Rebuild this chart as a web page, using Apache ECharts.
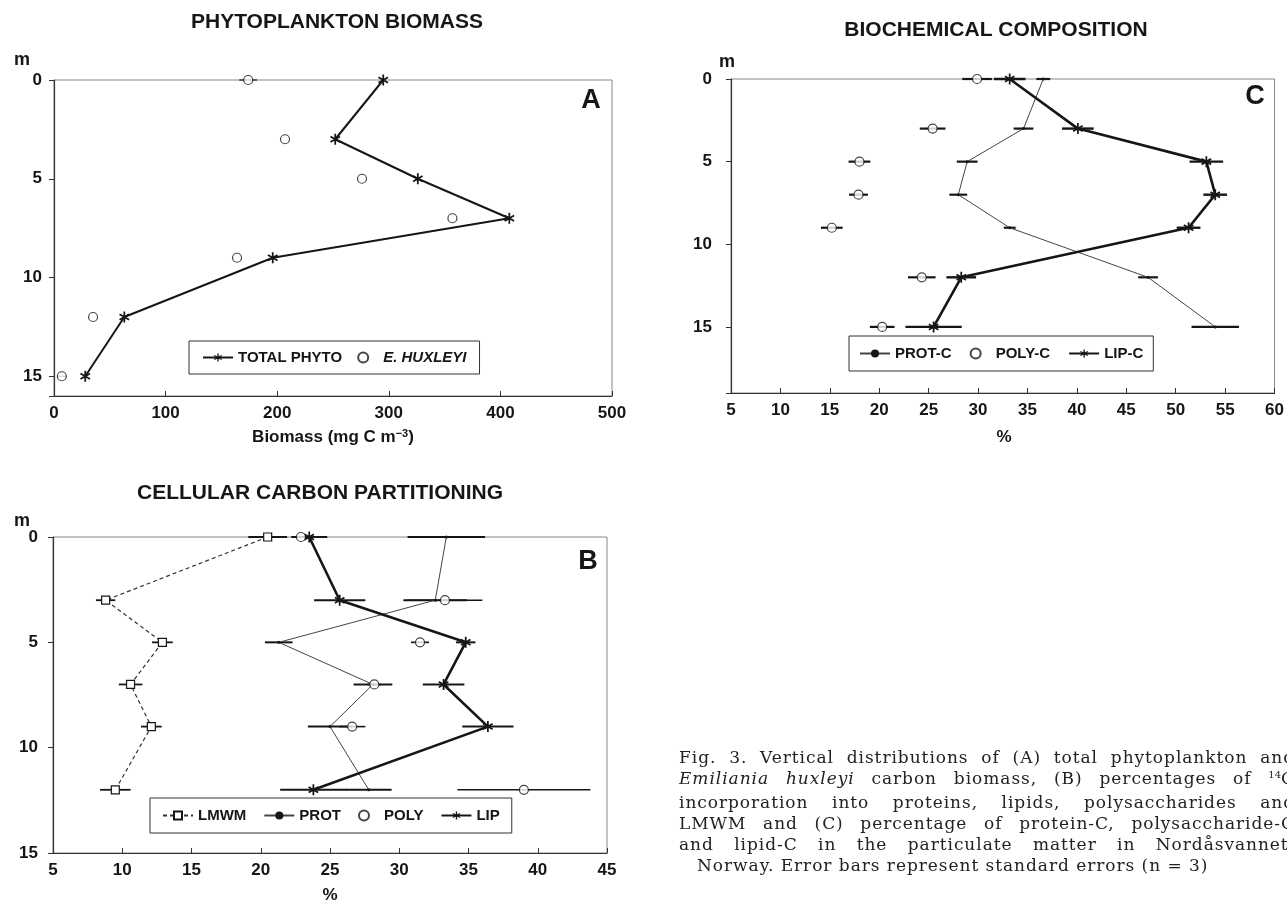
<!DOCTYPE html>
<html><head><meta charset="utf-8">
<script src="https://cdn.jsdelivr.net/npm/echarts@6/dist/echarts.min.js"></script>
<style>
html,body{margin:0;padding:0;background:#fff;overflow:hidden;width:1287px;height:902px;}
#chart{position:absolute;left:0;top:0;width:1287px;height:902px;}
#cap{position:absolute;left:679px;top:747px;width:616px;font-family:'DejaVu Serif',serif;font-size:17px;letter-spacing:0.95px;color:#222;line-height:21.3px;}
#cap .j{text-align:justify;text-align-last:justify;}
#cap .last{padding-left:18px;}
#cap .sup{font-size:10px;position:relative;top:-6px;letter-spacing:0;}
</style></head>
<body>
<div id="chart"></div>
<div id="cap">
<div class="j">Fig. 3. Vertical distributions of (A) total phytoplankton and</div>
<div class="j"><i>Emiliania huxleyi</i> carbon biomass, (B) percentages of <span class="sup">14</span>C</div>
<div class="j">incorporation into proteins, lipids, polysaccharides and</div>
<div class="j">LMWM and (C) percentage of protein-C, polysaccharide-C</div>
<div class="j">and lipid-C in the particulate matter in Nordåsvannet,</div>
<div class="last">Norway. Error bars represent standard errors (n = 3)</div>
</div>
<script>
// ---- Panel A: phytoplankton biomass ----
const depthA = [0, 3, 5, 7, 9, 12, 15];
const totalPhyto = [295, 252, 326, 408, 196, 63, 28];
const eHuxleyi = [174, 207, 276, 357, 164, 35, 7];
const eHuxleyiErr = [8, 0, 0, 0, 0, 0, 4];

// ---- Panel B: cellular carbon partitioning (%) ----
const depthB = [0, 3, 5, 7, 9, 12];
const lmwm = [20.5, 8.8, 12.9, 10.6, 12.1, 9.5];
const lmwmErr = [1.4, 0.7, 0.75, 0.85, 0.75, 1.1];
const prot = [33.4, 32.6, 21.3, 28.1, 25.0, 27.8];
const protErr = [2.8, 2.3, 1.0, 1.4, 1.6, 1.65];
const poly = [22.9, 33.3, 31.5, 28.2, 26.6, 39.0];
const polyErr = [0.6, 2.7, 0.65, 0.5, 0.95, 4.8];
const lip = [23.5, 25.7, 34.8, 33.2, 36.4, 23.8];
const lipErr = [1.3, 1.85, 0.7, 1.5, 1.85, 2.4];

// ---- Panel C: biochemical composition (%) ----
const depthC = [0, 3, 5, 7, 9, 12, 15];
const protC = [36.6, 34.6, 28.9, 28.0, 33.2, 47.2, 54.0];
const protCErr = [0.7, 1.0, 1.05, 0.9, 0.6, 1.0, 2.4];
const polyC = [29.9, 25.4, 18.0, 17.9, 15.2, 24.3, 20.3];
const polyCErr = [1.5, 1.3, 1.1, 0.95, 1.1, 1.4, 1.25];
const lipC = [33.2, 40.1, 53.1, 54.0, 51.3, 28.3, 25.5];
const lipCErr = [1.6, 1.6, 1.7, 1.2, 1.2, 1.5, 2.85];

// ---- axis ranges / tick labels ----
const xRangeA = [0, 500, 100];
const xRangeB = [5, 45, 5];
const xRangeC = [5, 60, 5];
const depthMax = [16, 15, 19];

const FF = "'Liberation Sans', Arial, Helvetica, sans-serif";
const INK = '#161616';
const STAR = 'path://M-0.8,-5L-0.8,5L0.8,5L0.8,-5Z M3.93,3.193L4.73,1.807L-3.93,-3.193L-4.73,-1.807Z M4.73,-1.807L3.93,-3.193L-4.73,1.807L-3.93,3.193Z';

function pairs(depths, vals) { return depths.map((d, i) => [vals[i], d]); }

function errBars(gi, depths, vals, errs, lw) {
  return {
    type: 'custom', xAxisIndex: gi, yAxisIndex: gi, silent: true, z: 1,
    data: depths.map((d, i) => [vals[i], d, errs[i]]),
    encode: { x: 0, y: 1 },
    renderItem: function (p, api) {
      const v = api.value(0), d = api.value(1), e = api.value(2);
      if (!e) return null;
      const a = api.coord([v - e, d]), b = api.coord([v + e, d]);
      return { type: 'line', shape: { x1: a[0], y1: a[1], x2: b[0], y2: b[1] },
        style: { stroke: INK, lineWidth: lw } };
    }
  };
}
function lineS(name, gi, depths, vals, symbol, size, lw, color, dash, fill) {
  return {
    type: 'line', name: name, xAxisIndex: gi, yAxisIndex: gi, z: 3,
    data: pairs(depths, vals), symbol: symbol, symbolSize: size, symbolKeepAspect: true,
    showSymbol: true, showAllSymbol: true,
    lineStyle: { color: color, width: lw, type: dash || 'solid' },
    itemStyle: { color: fill || INK, borderColor: INK, borderWidth: fill ? 1.2 : 0 }
  };
}
function scat(name, gi, depths, vals, size) {
  return {
    type: 'scatter', name: name, xAxisIndex: gi, yAxisIndex: gi, z: 4,
    data: pairs(depths, vals), symbol: 'circle', symbolSize: size,
    itemStyle: { color: '#fff', borderColor: INK, borderWidth: 1.2 }
  };
}
function xAx(gi, r) {
  return {
    type: 'value', gridIndex: gi, position: 'bottom', min: r[0], max: r[1], interval: r[2],
    axisLine: { show: true, onZero: false, lineStyle: { color: '#333', width: 1.2 } },
    axisTick: { show: true, inside: true, length: 5, lineStyle: { color: '#333' } },
    axisLabel: { fontSize: 17, fontWeight: 'bold', color: INK, fontFamily: FF, margin: 9 },
    splitLine: { show: false }
  };
}
function yAx(gi, max, margin) {
  return {
    type: 'value', gridIndex: gi, min: 0, max: max, interval: 5, inverse: true,
    axisLine: { show: true, onZero: false, lineStyle: { color: '#333', width: 1.2 } },
    axisTick: { show: true, length: 5, lineStyle: { color: '#333' } },
    axisLabel: { fontSize: 17, fontWeight: 'bold', color: INK, fontFamily: FF, margin: margin,
      formatter: v => (v % 5 === 0 ? String(v) : '') },
    splitLine: { show: false }
  };
}
function legendBox(items, left, top, pad, gap) {
  return {
    data: items, left: left, top: top, orient: 'horizontal', padding: pad, itemGap: gap,
    itemWidth: 30, itemHeight: 10, borderColor: '#333', borderWidth: 1, backgroundColor: '#fff',
    selectedMode: false,
    textStyle: { fontSize: 15, fontWeight: 'bold', color: INK, fontFamily: FF }
  };
}
function T(text, x, y, size, extra) {
  return { type: 'text', x: x, y: y, z: 10,
    style: Object.assign({ text: text, fontSize: size, fontWeight: 'bold', fontFamily: FF,
      fill: INK, align: 'center', verticalAlign: 'middle' }, extra || {}) };
}

const chart = echarts.init(document.getElementById('chart'), null, { renderer: 'canvas' });
chart.setOption({
  animation: false,
  backgroundColor: '#fff',
  grid: [
    { left: 54, top: 80, width: 558, height: 316, show: true, borderColor: '#888', borderWidth: 1 },
    { left: 53, top: 537, width: 554, height: 316, show: true, borderColor: '#888', borderWidth: 1 },
    { left: 731, top: 79, width: 545, height: 314, show: true, borderColor: '#888', borderWidth: 1 }
  ],
  xAxis: [xAx(0, xRangeA), xAx(1, xRangeB), xAx(2, xRangeC)],
  yAxis: [yAx(0, depthMax[0], 12), yAx(1, depthMax[1], 15), yAx(2, depthMax[2], 19)],
  legend: [
    legendBox(['TOTAL PHYTO', { name: 'E. HUXLEYI', textStyle: { fontStyle: 'italic' } }], 189, 341, [9, 13], 15),
    legendBox(['LMWM', 'PROT', 'POLY', 'LIP'], 150, 798, [10, 12], 17),
    legendBox(['PROT-C', 'POLY-C', 'LIP-C'], 849, 336, [10, 10], 18)
  ],
  graphic: [
    T('PHYTOPLANKTON BIOMASS', 337, 22, 21),
    T('CELLULAR CARBON PARTITIONING', 320, 493, 21),
    T('BIOCHEMICAL COMPOSITION', 996, 30, 21),
    T('m', 22, 60, 18), T('m', 22, 521, 18), T('m', 727, 62, 18),
    T('A', 591, 101, 27), T('B', 588, 562, 27), T('C', 1255, 97, 27),
    T('Biomass (mg C m{s|−3})', 333, 437, 17, { rich: { s: { fontSize: 11, fontWeight: 'bold', fontFamily: FF, verticalAlign: 'top', fill: INK } } }),
    T('%', 330, 895, 17),
    T('%', 1004, 437, 17)
  ],
  series: [
    // Panel A
    errBars(0, depthA, eHuxleyi, eHuxleyiErr, 1.2),
    lineS('TOTAL PHYTO', 0, depthA, totalPhyto, STAR, 11, 2, INK),
    scat('E. HUXLEYI', 0, depthA, eHuxleyi, 9),
    // Panel B
    errBars(1, depthB, lmwm, lmwmErr, 1.8),
    errBars(1, depthB, prot, protErr, 2),
    errBars(1, depthB, poly, polyErr, 1.6),
    errBars(1, depthB, lip, lipErr, 2),
    lineS('LMWM', 1, depthB, lmwm, 'rect', 8, 1.2, '#333', [4, 3], '#fff'),
    lineS('PROT', 1, depthB, prot, 'circle', 3, 1, '#444'),
    scat('POLY', 1, depthB, poly, 9),
    lineS('LIP', 1, depthB, lip, STAR, 11, 2.6, INK),
    // Panel C
    errBars(2, depthC, protC, protCErr, 2.2),
    errBars(2, depthC, polyC, polyCErr, 2.2),
    errBars(2, depthC, lipC, lipCErr, 2.4),
    lineS('PROT-C', 2, depthC, protC, 'circle', 3, 1, '#444'),
    scat('POLY-C', 2, depthC, polyC, 9),
    lineS('LIP-C', 2, depthC, lipC, STAR, 11, 2.6, INK)
  ]
});
</script>
</body></html>
